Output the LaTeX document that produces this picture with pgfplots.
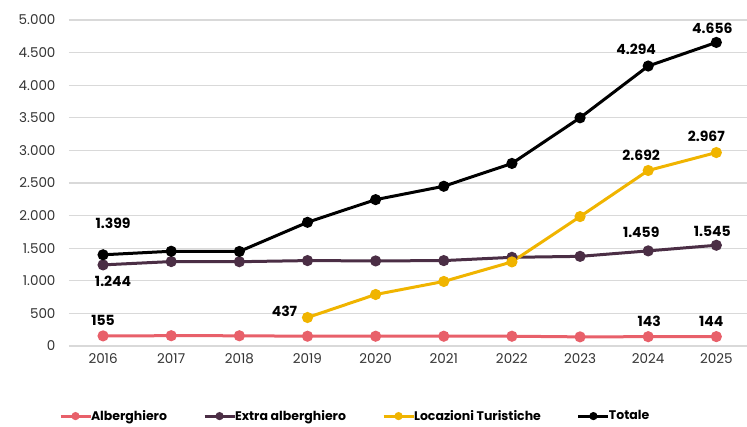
\documentclass[border=0pt]{standalone}
\usepackage{fontspec}
\setmainfont{Poppins}
\usepackage{pgfplots}
\pgfplotsset{compat=1.18}

\definecolor{alb}{HTML}{E8606A}
\definecolor{extra}{HTML}{4B2E45}
\definecolor{loc}{HTML}{F0B400}
\definecolor{gridc}{HTML}{D9D9D9}

\begin{document}
\begin{tikzpicture}[x=1pt,y=1pt]
\path[use as bounding box] (-69,-80) rectangle (678,346);
\begin{axis}[
  at={(0,0)}, anchor=south west,
  scale only axis, width=678pt, height=326pt,
  xmin=2015.5, xmax=2025.45, ymin=0, ymax=5000,
  axis line style={draw=none},
  xtick={2016,...,2025}, ytick={0,500,...,5000},
  xticklabel style={/pgf/number format/1000 sep={}, yshift=-4pt},
  yticklabel style={/pgf/number format/1000 sep={.}, xshift=-10pt},
  /pgf/number format/assume math mode=true,
  tick style={draw=none},
  ticklabel style={font=\fontsize{13.5}{15}\selectfont, text=black!80},
  ymajorgrids, grid style={gridc, line width=1.2pt},
  clip=false,
  every axis plot/.append style={line width=3pt, mark=*, mark size=4pt},
  legend image code/.code={
    \draw[mark repeat=2, mark phase=2, mark size=2.5pt, line width=3pt]
      plot coordinates {(0pt,0pt) (15pt,0pt) (30pt,0pt)};},
  legend style={draw=none, at={(0.422,-0.215)}, anchor=center,
    font=\fontsize{12.5}{14}\selectfont\bfseries, legend columns=4,
    /tikz/every even column/.append style={column sep=34pt},
    /tikz/every odd column/.append style={column sep=-3pt}},
  legend cell align=left,
]
\addplot[alb] coordinates {(2016,155) (2017,158) (2018,157) (2019,150) (2020,150) (2021,150) (2022,150) (2023,140) (2024,143) (2025,144)};
\addlegendentry{Alberghiero}
\addplot[extra] coordinates {(2016,1244) (2017,1295) (2018,1293) (2019,1310) (2020,1305) (2021,1310) (2022,1360) (2023,1375) (2024,1459) (2025,1545)};
\addlegendentry{Extra alberghiero}
\addplot[loc] coordinates {(2019,437) (2020,790) (2021,990) (2022,1290) (2023,1985) (2024,2692) (2025,2967)};
\addlegendentry{Locazioni Turistiche}
\addplot[black] coordinates {(2016,1399) (2017,1453) (2018,1450) (2019,1897) (2020,2245) (2021,2450) (2022,2800) (2023,3500) (2024,4294) (2025,4656)};
\addlegendentry{Totale}

\tikzset{lab/.style={font=\fontsize{14}{16}\selectfont\bfseries, inner sep=0pt}}
\node[lab] at (axis cs:2016,1399) [xshift=10pt, yshift=31pt] {1.399};
\node[lab] at (axis cs:2016,1244) [xshift=10pt, yshift=-16pt] {1.244};
\node[lab] at (axis cs:2016,155) [yshift=16pt] {155};
\node[lab] at (axis cs:2019,437) [xshift=-23pt, yshift=6pt] {437};
\node[lab] at (axis cs:2024,4294) [xshift=-12pt, yshift=17pt] {4.294};
\node[lab] at (axis cs:2025,4656) [xshift=-4pt, yshift=14pt] {4.656};
\node[lab] at (axis cs:2024,2692) [xshift=-7pt, yshift=15pt] {2.692};
\node[lab] at (axis cs:2025,2967) [xshift=-10pt, yshift=16pt] {2.967};
\node[lab] at (axis cs:2024,1459) [xshift=-7pt, yshift=19pt] {1.459};
\node[lab] at (axis cs:2025,1545) [xshift=-4pt, yshift=14pt] {1.545};
\node[lab] at (axis cs:2024,143) [xshift=1pt, yshift=15pt] {143};
\node[lab] at (axis cs:2025,144) [xshift=-5pt, yshift=15pt] {144};
\end{axis}
\end{tikzpicture}
\end{document}
